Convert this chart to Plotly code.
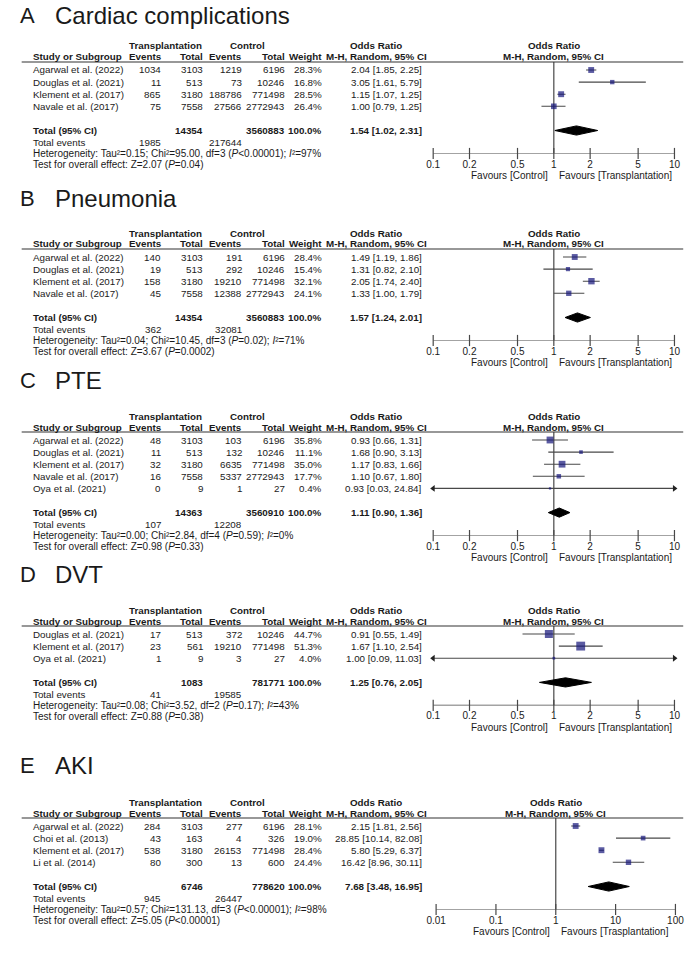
import math
import plotly.graph_objects as go

W, H = 700, 958
FONT = "Arial, 'Liberation Sans', sans-serif"
TXT = "#1a1a1a"
BLUE = "#15157a"
GREY = "#484848"

# ---------------- data ----------------
A_title = "Cardiac complications"
A_study = ["Agarwal et al. (2022)", "Douglas et al. (2021)", "Klement et al. (2017)", "Navale et al. (2017)"]
A_t_events = [1034, 11, 865, 75]
A_t_total = [3103, 513, 3180, 7558]
A_c_events = [1219, 73, 188786, 27566]
A_c_total = [6196, 10246, 771498, 2772943]
A_weight = [28.3, 16.8, 28.5, 26.4]
A_or = [2.04, 3.05, 1.15, 1.00]
A_lo = [1.85, 1.61, 1.07, 0.79]
A_hi = [2.25, 5.79, 1.25, 1.25]
A_total_n = [14354, 3560883]
A_total_or = [1.54, 1.02, 2.31]
A_total_events = [1985, 217644]
A_het = ["0.15", "95.00", "3", "<0.00001", "97"]
A_test = ["2.07", "=0.04"]

B_title = "Pneumonia"
B_study = ["Agarwal et al. (2022)", "Douglas et al. (2021)", "Klement et al. (2017)", "Navale et al. (2017)"]
B_t_events = [140, 19, 158, 45]
B_t_total = [3103, 513, 3180, 7558]
B_c_events = [191, 292, 19210, 12388]
B_c_total = [6196, 10246, 771498, 2772943]
B_weight = [28.4, 15.4, 32.1, 24.1]
B_or = [1.49, 1.31, 2.05, 1.33]
B_lo = [1.19, 0.82, 1.74, 1.00]
B_hi = [1.86, 2.10, 2.40, 1.79]
B_total_n = [14354, 3560883]
B_total_or = [1.57, 1.24, 2.01]
B_total_events = [362, 32081]
B_het = ["0.04", "10.45", "3", "=0.02", "71"]
B_test = ["3.67", "=0.0002"]

C_title = "PTE"
C_study = ["Agarwal et al. (2022)", "Douglas et al. (2021)", "Klement et al. (2017)", "Navale et al. (2017)", "Oya et al. (2021)"]
C_t_events = [48, 11, 32, 16, 0]
C_t_total = [3103, 513, 3180, 7558, 9]
C_c_events = [103, 132, 6635, 5337, 1]
C_c_total = [6196, 10246, 771498, 2772943, 27]
C_weight = [35.8, 11.1, 35.0, 17.7, 0.4]
C_or = [0.93, 1.68, 1.17, 1.10, 0.93]
C_lo = [0.66, 0.90, 0.83, 0.67, 0.03]
C_hi = [1.31, 3.13, 1.66, 1.80, 24.84]
C_total_n = [14363, 3560910]
C_total_or = [1.11, 0.90, 1.36]
C_total_events = [107, 12208]
C_het = ["0.00", "2.84", "4", "=0.59", "0"]
C_test = ["0.98", "=0.33"]

D_title = "DVT"
D_study = ["Douglas et al. (2021)", "Klement et al. (2017)", "Oya et al. (2021)"]
D_t_events = [17, 23, 1]
D_t_total = [513, 561, 9]
D_c_events = [372, 19210, 3]
D_c_total = [10246, 771498, 27]
D_weight = [44.7, 51.3, 4.0]
D_or = [0.91, 1.67, 1.00]
D_lo = [0.55, 1.10, 0.09]
D_hi = [1.49, 2.54, 11.03]
D_total_n = [1083, 781771]
D_total_or = [1.25, 0.76, 2.05]
D_total_events = [41, 19585]
D_het = ["0.08", "3.52", "2", "=0.17", "43"]
D_test = ["0.88", "=0.38"]

E_title = "AKI"
E_study = ["Agarwal et al. (2022)", "Choi et al. (2013)", "Klement et al. (2017)", "Li et al. (2014)"]
E_t_events = [284, 43, 538, 80]
E_t_total = [3103, 163, 3180, 300]
E_c_events = [277, 4, 26153, 13]
E_c_total = [6196, 326, 771498, 600]
E_weight = [28.1, 19.0, 28.4, 24.4]
E_or = [2.15, 28.85, 5.80, 16.42]
E_lo = [1.81, 10.14, 5.29, 8.96]
E_hi = [2.56, 82.08, 6.37, 30.11]
E_total_n = [6746, 778620]
E_total_or = [7.68, 3.48, 16.95]
E_total_events = [945, 26447]
E_het = ["0.57", "131.13", "3", "<0.00001", "98"]
E_test = ["5.05", "<0.00001"]

TICKVALS_AD = [0.1, 0.2, 0.5, 1, 2, 5, 10]
TICKTEXT_AD = ["0.1", "0.2", "0.5", "1", "2", "5", "10"]
TICKVALS_E = [0.01, 0.1, 1, 10, 100]
TICKTEXT_E = ["0.01", "0.1", "1", "10", "100"]

FAV_LEFT = "Favours [Control]"
FAV_RIGHT = ["Favours [Transplantation]"] * 4 + ["Favours [Trasplantation]"]
LETTERS = ["A", "B", "C", "D", "E"]

panels = [
    dict(title=A_title, study=A_study, te=A_t_events, tt=A_t_total, ce=A_c_events, ct=A_c_total, w=A_weight,
         est=A_or, lo=A_lo, hi=A_hi, tn=A_total_n, tor=A_total_or, tev=A_total_events, het=A_het, test=A_test,
         tv=TICKVALS_AD, tt_txt=TICKTEXT_AD),
    dict(title=B_title, study=B_study, te=B_t_events, tt=B_t_total, ce=B_c_events, ct=B_c_total, w=B_weight,
         est=B_or, lo=B_lo, hi=B_hi, tn=B_total_n, tor=B_total_or, tev=B_total_events, het=B_het, test=B_test,
         tv=TICKVALS_AD, tt_txt=TICKTEXT_AD),
    dict(title=C_title, study=C_study, te=C_t_events, tt=C_t_total, ce=C_c_events, ct=C_c_total, w=C_weight,
         est=C_or, lo=C_lo, hi=C_hi, tn=C_total_n, tor=C_total_or, tev=C_total_events, het=C_het, test=C_test,
         tv=TICKVALS_AD, tt_txt=TICKTEXT_AD),
    dict(title=D_title, study=D_study, te=D_t_events, tt=D_t_total, ce=D_c_events, ct=D_c_total, w=D_weight,
         est=D_or, lo=D_lo, hi=D_hi, tn=D_total_n, tor=D_total_or, tev=D_total_events, het=D_het, test=D_test,
         tv=TICKVALS_AD, tt_txt=TICKTEXT_AD),
    dict(title=E_title, study=E_study, te=E_t_events, tt=E_t_total, ce=E_c_events, ct=E_c_total, w=E_weight,
         est=E_or, lo=E_lo, hi=E_hi, tn=E_total_n, tor=E_total_or, tev=E_total_events, het=E_het, test=E_test,
         tv=TICKVALS_E, tt_txt=TICKTEXT_E),
]

# ---------------- layout constants (px) ----------------
HEADER_Y = [62, 249, 432, 626, 818]
TITLE_Y = [16, 198, 381, 574, 765]
PITCH = 12.1
FOREST_X = [(435, 683), (435, 683), (435, 683), (435, 683), (438, 684)]
COL_STUDY = 22
COL_TE, COL_TT, COL_CE, COL_CT, COL_W, COL_OR = 157, 200, 241, 285, 323, 426
HDR_TRANS, HDR_CTRL, HDR_OR = 160, 244, 376
FS = 9.8
FS_FOOT = 10.0

fig = go.Figure()
ann = []
shapes = []
lay = {}

for k, p in enumerate(panels):
    idx = k + 1
    xa = "x" if idx == 1 else f"x{idx}"
    ya = "y" if idx == 1 else f"y{idx}"
    n = len(p["study"])
    L = HEADER_Y[k]

    def r(off):
        return (off - 8) / PITCH

    def yp(row):
        return 1 - (L + 8 + PITCH * row) / H

    total_row = n + 1
    axis_row = total_row + 23 / PITCH
    axis_px = L + 8 + PITCH * axis_row
    tv = p["tv"]
    lmin, lmax = math.log10(tv[0]), math.log10(tv[-1])
    x0, x1 = FOREST_X[k]

    lay["yaxis" + ("" if idx == 1 else str(idx))] = dict(
        domain=[1 - axis_px / H, 1 - L / H], range=[axis_row, r(0)], visible=False, fixedrange=True)
    lay["xaxis" + ("" if idx == 1 else str(idx))] = dict(
        domain=[x0 / W, x1 / W], type="log", range=[lmin, lmax], anchor=ya,
        tickvals=tv, ticktext=p["tt_txt"], ticks="outside", ticklen=1, tickcolor="rgba(0,0,0,0)",
        showline=False, showgrid=False, zeroline=False,
        tickfont=dict(family=FONT, size=10, color=TXT), fixedrange=True)

    def add(tr):
        tr.update(xaxis=xa, yaxis=ya, showlegend=False, hoverinfo="skip", cliponaxis=False)
        fig.add_trace(tr)

    # axis with crossing ticks
    add(go.Scatter(x=tv, y=[axis_row] * len(tv), mode="lines+markers",
                   line=dict(color=GREY, width=1.2),
                   marker=dict(symbol="line-ns-open", size=8, line=dict(color=GREY, width=1.2))))
    # null line
    add(go.Scatter(x=[1, 1], y=[r(0), axis_row], mode="lines", line=dict(color=GREY, width=1.2)))

    # CI lines
    cx, cy = [], []
    arrow_l, arrow_r = [], []
    for i in range(n):
        lo = max(p["lo"][i], tv[0])
        hi = min(p["hi"][i], tv[-1])
        cx += [lo, hi, None]
        cy += [i, i, None]
        if p["lo"][i] < tv[0]:
            arrow_l.append(i)
        if p["hi"][i] > tv[-1]:
            arrow_r.append(i)
    add(go.Scatter(x=cx, y=cy, mode="lines", line=dict(color=GREY, width=1.1)))
    if arrow_l:
        add(go.Scatter(x=[tv[0]] * len(arrow_l), y=arrow_l, mode="markers",
                       marker=dict(symbol="triangle-left", size=6, color="#222")))
    if arrow_r:
        add(go.Scatter(x=[tv[-1]] * len(arrow_r), y=arrow_r, mode="markers",
                       marker=dict(symbol="triangle-right", size=6, color="#222")))
    # squares
    add(go.Scatter(x=p["est"], y=list(range(n)), mode="markers",
                   marker=dict(symbol="square", size=[2.2 + 0.13 * w for w in p["w"]], color=BLUE,
                               line=dict(width=0))))
    # diamond
    e, dl, dh = p["tor"]
    hh = 0.38
    add(go.Scatter(x=[dl, e, dh, e, dl], y=[total_row, total_row - hh, total_row, total_row + hh, total_row],
                   mode="lines", fill="toself", fillcolor="#000", line=dict(color="#000", width=1)))

    # header line across
    shapes.append(dict(type="line", xref="paper", yref="paper", x0=12 / W, x1=692 / W, y0=1 - L / H, y1=1 - L / H,
                       line=dict(color="#333", width=1.1)))

    def t(x_px, row, text, anchor="right", size=FS, bold=False, xref="paper", xshift=0):
        if bold:
            text = f"<b>{text}</b>"
        ann.append(dict(xref=xref, yref="paper", x=x_px / W if xref == "paper" else x_px, y=yp(row), text=text,
                        xanchor=anchor, yanchor="middle", showarrow=False, xshift=xshift,
                        font=dict(family=FONT, size=size, color=TXT)))

    # title
    ty = r(TITLE_Y[k] - L)
    t(8, ty, LETTERS[k], anchor="left", size=22)
    t(44, ty, p["title"], anchor="left", size=24)
    # headers
    yh1, yh2 = r(-16), r(-5)
    t(HDR_TRANS, yh1, "Transplantation", anchor="center", bold=True)
    t(HDR_CTRL, yh1, "Control", anchor="center", bold=True)
    t(HDR_OR, yh1, "Odds Ratio", anchor="center", bold=True)
    t(COL_STUDY, yh2, "Study or Subgroup", anchor="left", bold=True)
    t(COL_TE + 1, yh2, "Events", bold=True)
    t(COL_TT, yh2, "Total", bold=True)
    t(COL_CE, yh2, "Events", bold=True)
    t(COL_CT, yh2, "Total", bold=True)
    t(COL_W, yh2, "Weight", bold=True)
    t(COL_OR + 5, yh2, "M-H, Random, 95% CI", bold=True)
    # forest header
    t(0, yh1, "Odds Ratio", anchor="center", bold=True, xref=xa)
    t(0, yh2, "M-H, Random, 95% CI", anchor="center", bold=True, xref=xa)

    # rows
    for i in range(n):
        t(COL_STUDY, i, p["study"][i], anchor="left")
        t(COL_TE, i, str(p["te"][i]))
        t(COL_TT, i, str(p["tt"][i]))
        t(COL_CE, i, str(p["ce"][i]))
        t(COL_CT, i, str(p["ct"][i]))
        t(COL_W, i, f"{p['w'][i]:.1f}%")
        t(COL_OR, i, f"{p['est'][i]:.2f} [{p['lo'][i]:.2f}, {p['hi'][i]:.2f}]")
    # totals
    t(COL_STUDY, total_row, "Total (95% CI)", anchor="left", bold=True)
    t(COL_TT, total_row, str(p["tn"][0]), bold=True)
    t(COL_CT, total_row, str(p["tn"][1]), bold=True)
    t(COL_W, total_row, "100.0%", bold=True)
    t(COL_OR, total_row, f"{e:.2f} [{dl:.2f}, {dh:.2f}]", bold=True)
    t(COL_STUDY, total_row + 1.0, "Total events", anchor="left")
    t(COL_TE, total_row + 1.0, str(p["tev"][0]))
    t(COL_CE, total_row + 1.0, str(p["tev"][1]))
    tau, chi, df, pv, i2 = p["het"]
    t(COL_STUDY, total_row + 1.92,
      f"Heterogeneity: Tau²={tau}; Chi²={chi}, df={df} (<i>P</i>{pv}); <i>I</i>²={i2}%", anchor="left",
      size=FS_FOOT)
    z, pz = p["test"]
    t(COL_STUDY, total_row + 2.83, f"Test for overall effect: Z={z} (<i>P</i>{pz})", anchor="left", size=FS_FOOT)

    # favours
    fav_y = axis_row + 22 / PITCH
    t(0, fav_y, FAV_LEFT, anchor="right", size=10, xref=xa, xshift=-4)
    t(0, fav_y, FAV_RIGHT[k], anchor="left", size=10, xref=xa, xshift=3)

fig.update_layout(
    width=W, height=H, margin=dict(l=0, r=0, t=0, b=0),
    paper_bgcolor="white", plot_bgcolor="rgba(0,0,0,0)",
    annotations=ann, shapes=shapes, showlegend=False, **lay)

fig.write_html("out.html", config={"displayModeBar": False},
               post_script="document.body.style.margin='0';document.body.style.overflow='hidden';")
